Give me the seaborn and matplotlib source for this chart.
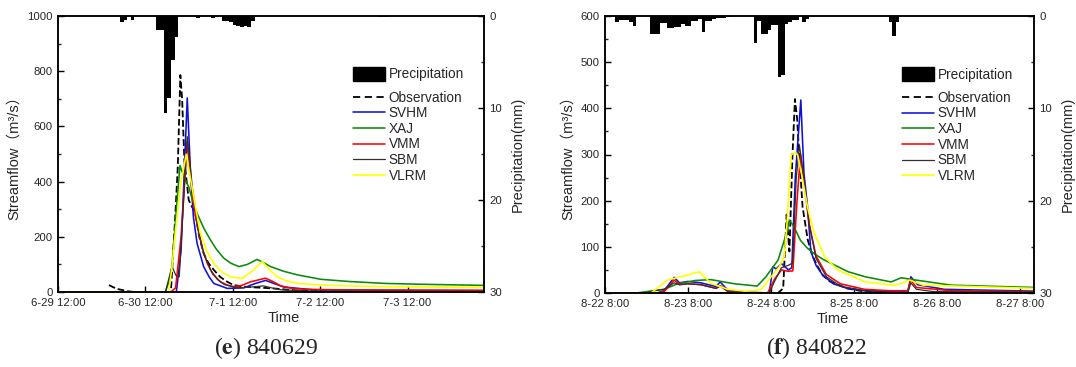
import numpy as np
import pandas as pd
import matplotlib
matplotlib.use("Agg")
import matplotlib.pyplot as plt
from matplotlib.patches import Patch
from matplotlib.lines import Line2D
from matplotlib.ticker import MultipleLocator
import seaborn as sns

# ---------------- (e) 840629 : hours after 6-29 12:00 ----------------
e_ticklabels = ['6-29 12:00', '6-30 12:00', '7-1 12:00', '7-2 12:00', '7-3 12:00']
e_rain_h = [17, 18, 20, 27, 28, 29, 30, 31, 32, 38, 42, 45, 46, 47, 48, 49, 50, 51, 52, 53, 88, 89, 90]
e_rain_mm = [0.7, 0.4, 0.4, 1.5, 1.5, 10.5, 8.9, 4.8, 2.3, 0.2, 0.2, 0.5, 0.5, 0.7, 1.0, 1.1, 1.2, 1.1, 1.2, 0.5, 0.15, 0.15, 0.15]

e_obs_t = [14, 16, 19, 21, 31, 32.2, 32.9, 33.6, 34.1, 34.7, 35.9, 37.7, 38.8, 40, 41.3, 42.8, 44.5, 46.5, 48.2,
           52, 56.6, 60, 65, 70, 80, 117]
e_obs_q = [25, 12, 3, 0, 0, 273, 454, 786, 696, 478, 333, 285, 200, 140, 105, 80, 55, 37, 25,
           18, 15, 12, 6, 3, 1, 1]
e_svhm_t = [0, 32.5, 33.8, 35.5, 36.4, 37.2, 38.2, 40, 41.5, 42.8, 46.5, 51, 54, 57, 59.5, 62, 70, 117]
e_svhm_q = [0, 0, 150, 703, 430, 270, 176, 92, 55, 31, 13, 15, 30, 42, 30, 18, 8, 5]
e_xaj_t = [0, 29.5, 30.5, 31.3, 32.7, 33.5, 34.5, 35.9, 37, 38.2, 40, 41.9, 43.5, 45.5, 47.5, 49.7, 52, 54.7,
           56.5, 58.4, 62, 65.8, 72.2, 80, 90, 100, 117]
e_xaj_q = [0, 0, 40, 92, 333, 458, 420, 381, 330, 285, 232, 188, 155, 123, 104, 92, 100, 118,
           106, 92, 75, 62, 46, 38, 31, 28, 24]
e_vmm_t = [0, 31, 32.3, 33.8, 35.5, 36.8, 37.7, 38.7, 39.8, 41, 42.5, 44.6, 46.5, 48.3, 50.5, 52.9, 57, 59,
           61.2, 64, 67.5, 80, 117]
e_vmm_q = [0, 0, 15, 200, 545, 370, 280, 213, 150, 104, 65, 37, 25, 19, 24, 37, 50, 38,
           22, 14, 10, 7, 6]
e_sbm_t = [0, 29.5, 31.3, 32.4, 33.3, 35.5, 36.9, 38.6, 40, 41.9, 43.8, 45.7, 49.3, 53, 56.5, 59, 61.2, 70, 117]
e_sbm_q = [0, 0, 92, 60, 55, 563, 380, 220, 140, 80, 45, 27, 15, 18, 22, 14, 8, 3, 2]
e_vlrm_t = [0, 30.4, 31.3, 32.2, 33.6, 35.2, 36.8, 38, 39.1, 40.8, 42.8, 45, 47.4, 50.6, 53.5, 56.1, 58, 60.2,
            62.8, 65.8, 72.2, 90, 117]
e_vlrm_q = [0, 0, 90, 213, 381, 499, 381, 290, 213, 150, 104, 72, 55, 49, 78, 110, 82, 55,
            40, 31, 25, 19, 17]

# ---------------- (f) 840822 : hours after 8-22 8:00 ----------------
f_ticklabels = ['8-22 8:00', '8-23 8:00', '8-24 8:00', '8-25 8:00', '8-26 8:00', '8-27 8:00']
f_rain_h = [3, 4, 5, 6, 7, 8, 13, 14, 15, 16, 17, 18, 19, 20, 21, 22, 23, 24, 25, 26, 27, 28, 29, 30,
            31, 32, 33, 34, 35, 36, 43, 44, 45, 46, 47, 48, 49, 50, 51, 52, 53, 54, 55, 57, 58, 82, 83, 84]
f_rain_mm = [0.7, 0.4, 0.4, 0.4, 0.6, 1.1, 1.9, 1.9, 1.9, 0.8, 0.8, 1.3, 1.3, 1.2, 1.2, 0.9, 1.1, 1.1, 0.5, 0.5,
             0.3, 1.7, 0.5, 0.5, 0.3, 0.2, 0.2, 0.2, 0.15, 0.15, 2.9, 0.5, 2.0, 1.9, 1.5, 1.0, 1.0, 6.6, 6.4, 0.9,
             0.7, 0.4, 0.4, 0.6, 0.3, 0.6, 2.2, 0.6]

f_obs_t = [0, 50, 51.5, 52.5, 53.3, 54.2, 54.9, 55.5, 56.3, 57.1, 58.6, 60, 61.5, 63, 65, 70, 75, 85, 124]
f_obs_q = [0, 0, 10, 170, 90, 300, 420, 380, 280, 187, 115, 80, 57, 38, 25, 10, 3, 0, 0]
f_svhm_t = [0, 15, 17.1, 20, 21.5, 23.9, 27.7, 32.1, 33.3, 35.5, 40.3, 47.5, 48.5, 49.5, 51, 53, 54, 55, 56.6,
            57.5, 58.5, 59.5, 61, 63, 66, 70, 75, 85, 87.5, 88.4, 90.4, 98, 124]
f_svhm_q = [0, 0, 5, 34, 22, 25, 22, 14, 24, 6, 2, 0, 57, 52, 64, 50, 55, 250, 418,
            260, 190, 90, 60, 38, 20, 10, 5, 3, 2, 35, 18, 8, 4]
f_xaj_t = [0, 9, 17.1, 21, 26, 30.6, 37.4, 44, 46.5, 50, 52.5, 53.3, 54.5, 56.5, 58.5, 60.5, 63, 65.4, 70.3,
           75.3, 82.7, 85.6, 88.1, 100, 124]
f_xaj_q = [0, 0, 8, 20, 27, 29, 20, 15, 35, 71, 130, 158, 145, 114, 97, 85, 73, 64, 46,
           35, 24, 33, 30, 17, 12]
f_vmm_t = [0, 15, 17.1, 20, 21.5, 23.9, 27.7, 32.1, 33.3, 35.5, 40, 47, 49, 51, 53, 54.3, 55.5, 56.5, 57.5,
           59, 61, 64, 68, 75, 82, 87.5, 88.4, 90, 100, 124]
f_vmm_q = [0, 0, 3, 28, 18, 20, 18, 10, 16, 4, 0, 0, 30, 50, 47, 48, 200, 300, 240,
           150, 80, 40, 20, 8, 5, 5, 28, 12, 5, 3]
f_sbm_t = [0, 12, 14, 17.1, 20, 21.5, 23.9, 27.7, 32.1, 33.3, 35.5, 40, 47.5, 49, 51, 53, 54.2, 55.3, 56.2,
           57.5, 59, 61, 64, 68, 75, 84, 87.5, 88.4, 90, 95, 124]
f_sbm_q = [0, 0, 5, 8, 22, 18, 20, 18, 10, 15, 3, 0, 0, 25, 55, 60, 65, 250, 320,
           250, 150, 75, 35, 15, 5, 0, 0, 22, 8, 3, 2]
f_vlrm_t = [0, 13.3, 18.1, 27.3, 30.6, 35.5, 40.5, 45.1, 48, 50.4, 51.8, 52.6, 53.8, 55, 55.7, 57, 58.5, 60.5,
            63.5, 67.4, 75.3, 83.2, 85.5, 88.1, 92, 124]
f_vlrm_q = [0, 0, 28, 46, 21, 8, 4, 7, 35, 57, 79, 150, 299, 305, 299, 250, 187, 129,
            78, 49, 24, 17, 20, 28, 17, 10]

names = ['Observation', 'SVHM', 'XAJ', 'VMM', 'SBM', 'VLRM']
colors = {'Observation': 'black', 'SVHM': '#1010d8', 'XAJ': '#0a8a0a', 'VMM': '#ff0000',
          'SBM': '#303030', 'VLRM': '#ffff00'}
widths = {'Observation': 1.3, 'SVHM': 1.15, 'XAJ': 1.15, 'VMM': 1.15, 'SBM': 0.9, 'VLRM': 1.2}

sns.set_theme(style='ticks')
plt.rcParams['font.family'] = ['Liberation Sans', 'Noto Sans CJK SC', 'DejaVu Sans']
plt.rcParams['mathtext.fontset'] = 'stix'

fig = plt.figure(figsize=(10.76, 3.67), dpi=100)
W, H = 1076, 367


def panel(rect, series, rain_h, rain_mm, ymax, ystep, tick_labels, xmax, tick_step):
    ax = fig.add_axes(rect)
    for name, (t, q) in zip(names, series):
        df = pd.DataFrame({'t': t, 'q': q})
        sns.lineplot(data=df, x='t', y='q', ax=ax, color=colors[name], lw=widths[name],
                     linestyle='--' if name == 'Observation' else '-',
                     dashes=(4, 2.5) if name == 'Observation' else (None, None),
                     estimator=None, sort=True)
    ax.set_xlim(0, xmax)
    ax.set_ylim(0, ymax)
    ax.set_xticks(np.arange(len(tick_labels)) * tick_step)
    ax.set_xticklabels(tick_labels)
    ax.yaxis.set_major_locator(MultipleLocator(ystep))
    ax.yaxis.set_minor_locator(MultipleLocator(ystep / 2))
    ax.tick_params(direction='in', labelsize=8.2, length=4, width=1, color='black', pad=4)
    ax.tick_params(which='minor', direction='in', length=2.5, width=1)
    ax.set_xlabel('Time', fontsize=10.5, labelpad=2)
    ax.xaxis.set_label_coords(0.53, -0.07)
    ax.set_ylabel('Streamflow（m³/s）', fontsize=10.5, labelpad=4)

    ax2 = ax.twinx()
    ax2.bar(rain_h, rain_mm, width=1.0, align='edge', color='black', edgecolor='none')
    ax2.set_ylim(30, 0)
    ax2.set_xlim(0, xmax)
    ax2.yaxis.set_major_locator(MultipleLocator(10))
    ax2.yaxis.set_minor_locator(MultipleLocator(5))
    ax2.tick_params(direction='in', labelsize=8.2, length=4, width=1, color='black', pad=4)
    ax2.tick_params(which='minor', direction='in', length=2.5, width=1)
    ax2.set_ylabel('Precipitation(mm)', fontsize=10.5, labelpad=6)
    for a in (ax, ax2):
        for s in a.spines.values():
            s.set_color('black')
            s.set_linewidth(1.1)

    leg1 = ax2.legend(handles=[Patch(facecolor='black', edgecolor='black')], labels=['Precipitation'],
                      loc='upper left', bbox_to_anchor=(0.693, 0.815), frameon=False, fontsize=9.8,
                      handlelength=2.3, handleheight=1.15, handletextpad=0.3, borderpad=0, borderaxespad=0)
    ax2.add_artist(leg1)
    handles = [Line2D([], [], color=colors[n], lw=widths[n],
                      linestyle=(0, (4, 2.5)) if n == 'Observation' else '-') for n in names]
    ax2.legend(handles=handles, labels=names, loc='upper left', bbox_to_anchor=(0.693, 0.73),
               frameon=False, fontsize=9.8, handlelength=2.3, handletextpad=0.3,
               labelspacing=0.12, borderpad=0, borderaxespad=0)
    return ax


e_series = [(e_obs_t, e_obs_q), (e_svhm_t, e_svhm_q), (e_xaj_t, e_xaj_q),
            (e_vmm_t, e_vmm_q), (e_sbm_t, e_sbm_q), (e_vlrm_t, e_vlrm_q)]
f_series = [(f_obs_t, f_obs_q), (f_svhm_t, f_svhm_q), (f_xaj_t, f_xaj_q),
            (f_vmm_t, f_vmm_q), (f_sbm_t, f_sbm_q), (f_vlrm_t, f_vlrm_q)]

panel([58 / W, (H - 292) / H, 426 / W, 276 / H], e_series, e_rain_h, e_rain_mm,
      1000, 200, e_ticklabels, 117, 24)
panel([605 / W, (H - 293) / H, 429 / W, 277 / H], f_series, f_rain_h, f_rain_mm,
      600, 100, f_ticklabels, 124, 24)

fig.text(266 / W, 1 - 348 / H, r'($\mathbf{e}$) 840629', ha='center', va='center',
         fontsize=17, family='Liberation Serif')
fig.text(817 / W, 1 - 348 / H, r'($\mathbf{f}$) 840822', ha='center', va='center',
         fontsize=17, family='Liberation Serif')

fig.savefig('out.png', dpi=100)
